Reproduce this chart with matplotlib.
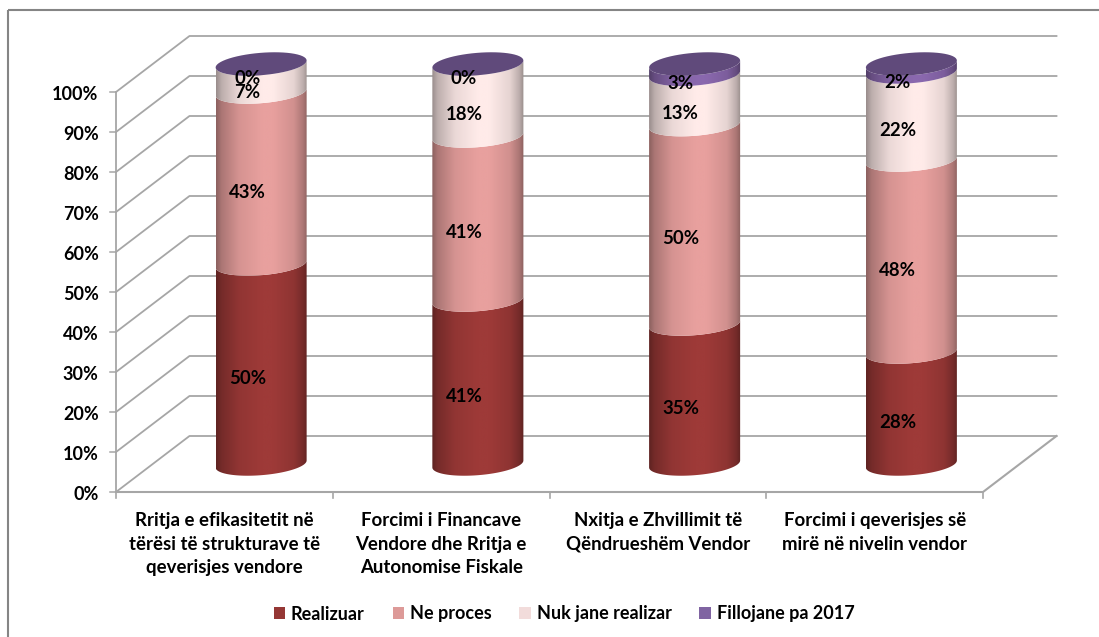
"""3D style stacked cylinder chart."""

from __future__ import annotations

import matplotlib

matplotlib.use("Agg")

import matplotlib.pyplot as plt
import numpy as np
from matplotlib.colors import to_rgb
from matplotlib.patches import PathPatch, Patch, Polygon, Rectangle
from matplotlib.path import Path

CATEGORIES = [
    "Rritja e efikasitetit në\ntërësi të strukturave të\nqeverisjes vendore",
    "Forcimi i Financave\nVendore dhe Rritja e\nAutonomise Fiskale",
    "Nxitja e Zhvillimit të\nQëndrueshëm Vendor",
    "Forcimi i qeverisjes së\nmirë në nivelin vendor",
]
SERIES_NAMES = ["Realizuar", "Ne proces", "Nuk jane realizar", "Fillojane pa 2017"]
REALIZUAR = [50, 41, 35.1, 28]
NE_PROCES = [43, 41, 50, 48]
NUK_JANE = [7, 18, 12.6, 22]
FILLOJANE = [0, 0, 2.6, 2]
PCT_TICKS = [0, 10, 20, 30, 40, 50, 60, 70, 80, 90, 100]

COLORS = ["#9E3A38", "#E8A09E", "#FFEBE9", "#8A68AE"]
LEGEND_COLORS = ["#953735", "#DD9A98", "#F2DCDB", "#8064A2"]
CAP_COLOR = "#604A7B"
GRID_COLOR = "#A6A6A6"
FONT = "Lato"

# one category is 216.75 px wide, one percent 4 px high
UNIT_X = 216.75
UNIT_Y = 4.0
DEPTH_X = 0.339
DEPTH_Y = 14.0
RADIUS = 0.21
TILT = 0.875
MINOR = 2.8


def arc(center: float, level: float, start: float, stop: float) -> np.ndarray:
    """Part of the tilted ellipse at a given stack level."""
    t = np.linspace(start, stop, 60)
    x = center + RADIUS * np.cos(t)
    y = level + DEPTH_Y / 2 + TILT * np.cos(t) + MINOR * np.sin(t)
    return np.column_stack([x, y])


def draw_segment(ax, center: float, low: float, high: float, color: str) -> None:
    """Shaded side of one cylinder piece."""
    bottom = arc(center, low, np.pi, 2 * np.pi)
    top = arc(center, high, 2 * np.pi, np.pi)
    path = Path(np.vstack([bottom, top, bottom[:1]]), closed=True)

    pos = np.linspace(0, 1, 200)
    shade = np.interp(pos, [0, 0.06, 0.25, 0.5, 0.62, 0.85, 0.95, 1], [0.6, 0.74, 0.92, 1, 1, 0.9, 0.74, 0.6])
    image = np.outer(shade, to_rgb(color)).reshape(1, 200, 3)
    im = ax.imshow(
        image,
        extent=(center - RADIUS, center + RADIUS, low - 10, high + 20),
        aspect="auto",
        interpolation="bilinear",
        zorder=3,
    )
    im.set_clip_path(PathPatch(path, transform=ax.transData))


def draw_walls(ax) -> None:
    """Gridlines, floor and axis lines of the 3D box."""
    n = len(CATEGORIES)
    for tick in PCT_TICKS:
        ax.plot(
            [0, DEPTH_X, n + DEPTH_X],
            [tick, tick + DEPTH_Y, tick + DEPTH_Y],
            color=GRID_COLOR,
            lw=1.3,
            zorder=1,
        )
        ax.plot([-0.028, 0], [tick, tick], color=GRID_COLOR, lw=1.1, zorder=1)
        ax.text(-0.08, tick - 0.5, f"{tick}%", ha="right", va="center", fontsize=13, fontweight="bold", family=FONT)
    ax.plot([0, 0], [0, 100], color=GRID_COLOR, lw=1.3, zorder=1)
    ax.plot([0, n, n + DEPTH_X], [0, 0, DEPTH_Y], color=GRID_COLOR, lw=1.5, zorder=2)
    for i in range(n + 1):
        ax.plot([i, i], [0, -1.5], color=GRID_COLOR, lw=1.2, zorder=1)


def main() -> None:
    fig = plt.figure(figsize=(10.99, 6.37), dpi=100)
    ax = fig.add_axes([0, 0, 1, 1])
    ax.axis("off")

    draw_walls(ax)

    stacks = np.array([REALIZUAR, NE_PROCES, NUK_JANE, FILLOJANE], dtype=float)
    shares = stacks / stacks.sum(axis=0) * 100
    for col in range(len(CATEGORIES)):
        center = col + 0.5 + DEPTH_X / 2
        low = 0.0
        for row, color in enumerate(COLORS):
            high = low + shares[row, col]
            draw_segment(ax, center, low, high, color)
            ax.text(
                center - 0.064,
                (low + high) / 2 + DEPTH_Y / 2 - 3.6,
                f"{stacks[row, col]:.0f}%",
                ha="center",
                va="center",
                fontsize=13.4,
                fontweight="bold",
                family=FONT,
                zorder=6,
            )
            low = high
        ax.add_patch(Polygon(arc(center, 100, 0, 2 * np.pi), closed=True, fc=CAP_COLOR, ec="none", zorder=4))

        ax.text(
            col + 0.5,
            -5.1,
            CATEGORIES[col],
            ha="center",
            va="top",
            fontsize=13.4,
            fontweight="bold",
            family=FONT,
            linespacing=1.45,
        )

    handles = [Patch(fc=c, ec="none") for c in LEGEND_COLORS]
    ax.legend(
        handles,
        SERIES_NAMES,
        ncol=4,
        loc="center",
        bbox_to_anchor=(564 / 1099, 1 - 614 / 637),
        frameon=False,
        handlelength=0.65,
        handleheight=0.65,
        handletextpad=0.3,
        columnspacing=1.55,
        prop={"family": FONT, "weight": "bold", "size": 13},
    )

    # chart frame, cropped at the right and bottom of the picture
    ax.add_patch(
        Rectangle((8 / 1099, 1 - 10 / 637), 1.2, -1.2, transform=ax.transAxes, fc="none", ec="#858585", lw=1.5, clip_on=True)
    )

    ax.set_xlim(-116 / UNIT_X, (1099 - 116) / UNIT_X)
    ax.set_ylim(-(637 - 492) / UNIT_Y, 492 / UNIT_Y)
    fig.savefig("out.png", dpi=100)
    plt.close(fig)


if __name__ == "__main__":
    main()
